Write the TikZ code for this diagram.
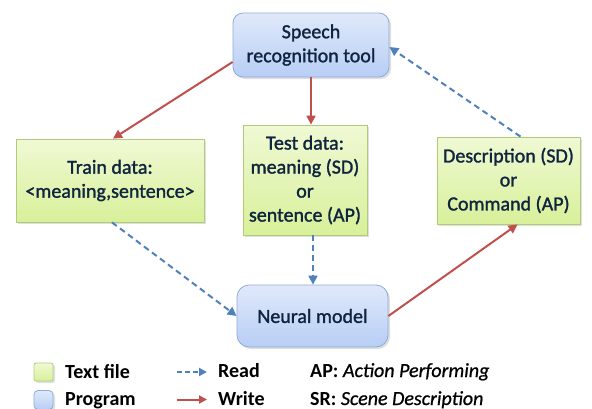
\documentclass[tikz,border=0pt]{standalone}
\usepackage{fontspec}
\setmainfont{Carlito}
\newfontfamily\heavyfont{Carlito}[UprightFeatures={FakeBold=1.4},ItalicFeatures={FakeBold=0.8}]
\usetikzlibrary{arrows.meta,shadows}
\definecolor{txt}{HTML}{0F243E}
\definecolor{gtop}{HTML}{F0F9D4}
\definecolor{gbot}{HTML}{D8F09A}
\definecolor{gline}{HTML}{B0CC78}
\definecolor{btop}{HTML}{E0E9FA}
\definecolor{bbot}{HTML}{B8CEF5}
\definecolor{bline}{HTML}{8EAADB}
\definecolor{redc}{HTML}{C0504D}
\definecolor{bluec}{HTML}{4F81BD}
\tikzset{
  boxtext/.style={align=center, text=txt, font=\heavyfont\fontsize{20}{24}\selectfont, inner sep=0pt},
  textf/.style={boxtext, draw=gline, line width=0.8pt, top color=gtop, bottom color=gbot,
    drop shadow={shadow xshift=2pt, shadow yshift=-2pt, opacity=0.25}},
  prog/.style={boxtext, draw=bline, line width=0.8pt, top color=btop, bottom color=bbot, rounded corners=10pt,
    drop shadow={shadow xshift=2pt, shadow yshift=-2pt, opacity=0.25}},
  wr/.style={draw=redc, line width=2pt, -{Triangle[length=9pt,width=9pt]}},
  rd/.style={draw=bluec, line width=2pt, dash pattern=on 6pt off 4pt, -{Triangle[length=9pt,width=9pt]}},
  legtext/.style={anchor=base west, font=\fontsize{20}{24}\selectfont\bfseries, inner sep=0pt},
  legarrow/.style={-{Triangle[length=8pt,width=8pt]}},
}
\begin{document}
\begin{tikzpicture}[x=1pt,y=-1pt]
\useasboundingbox (0,0) rectangle (592,408);
\node[prog, minimum width=156pt, minimum height=64pt] (speech) at (311,45) {Speech\\recognition tool};
\node[textf, minimum width=188pt, minimum height=83pt] (train) at (110,180.5) {Train data:\\<meaning,sentence>};
\node[textf, minimum width=124pt, minimum height=110pt] (test) at (305,180) {Test data:\\meaning (SD)\\or\\sentence (AP)};
\node[textf, minimum width=143pt, minimum height=87pt] (desc) at (508.5,180.5) {Description (SD)\\or\\Command (AP)};
\node[prog, minimum width=151pt, minimum height=62pt, rounded corners=12pt] (neural) at (312.5,316) {Neural model};

\draw[wr] ([yshift=-17pt]speech.west) -- ([xshift=3pt]train.north);
\draw[wr] (speech.south) -- (speech.south |- test.north);
\draw[rd] ([xshift=12pt]desc.north) -- ([yshift=-2pt]speech.east);
\draw[rd] ([xshift=2pt]train.south) -- (neural.west);
\draw[rd] ([xshift=8pt]test.south) -- ([xshift=8pt]test.south |- neural.north);
\draw[wr] (neural.east) -- ([xshift=9pt]desc.south);

% legend
\node[textf, minimum width=19pt, minimum height=18pt, rounded corners=2pt, drop shadow={opacity=0}] (lg1) at (43.5,372) {};
\node[prog, minimum width=19pt, minimum height=19pt, rounded corners=4pt, drop shadow={opacity=0}] (lg2) at (43.5,400) {};
\node[legtext] (t1) at (65,378) {Text file};
\node[legtext] (t2) at (65,405.5) {Program};
\coordinate (r1) at (177,372);
\coordinate (r2) at (207,372);
\coordinate (w1) at (177,399.5);
\coordinate (w2) at (207,399.5);
\draw[rd, legarrow, dash pattern=on 5pt off 3pt] (r1) -- (r2);
\draw[wr, legarrow] (w1) -- (w2);
\node[legtext] (t3) at (218,377.5) {Read};
\node[legtext] (t4) at (218,405.5) {Write};
\node[legtext] (t5) at (310,377) {AP: {\heavyfont\mdseries\itshape Action Performing}};
\node[legtext] (t6) at (310,405) {SR: {\heavyfont\mdseries\itshape Scene Description}};
\end{tikzpicture}
\end{document}
